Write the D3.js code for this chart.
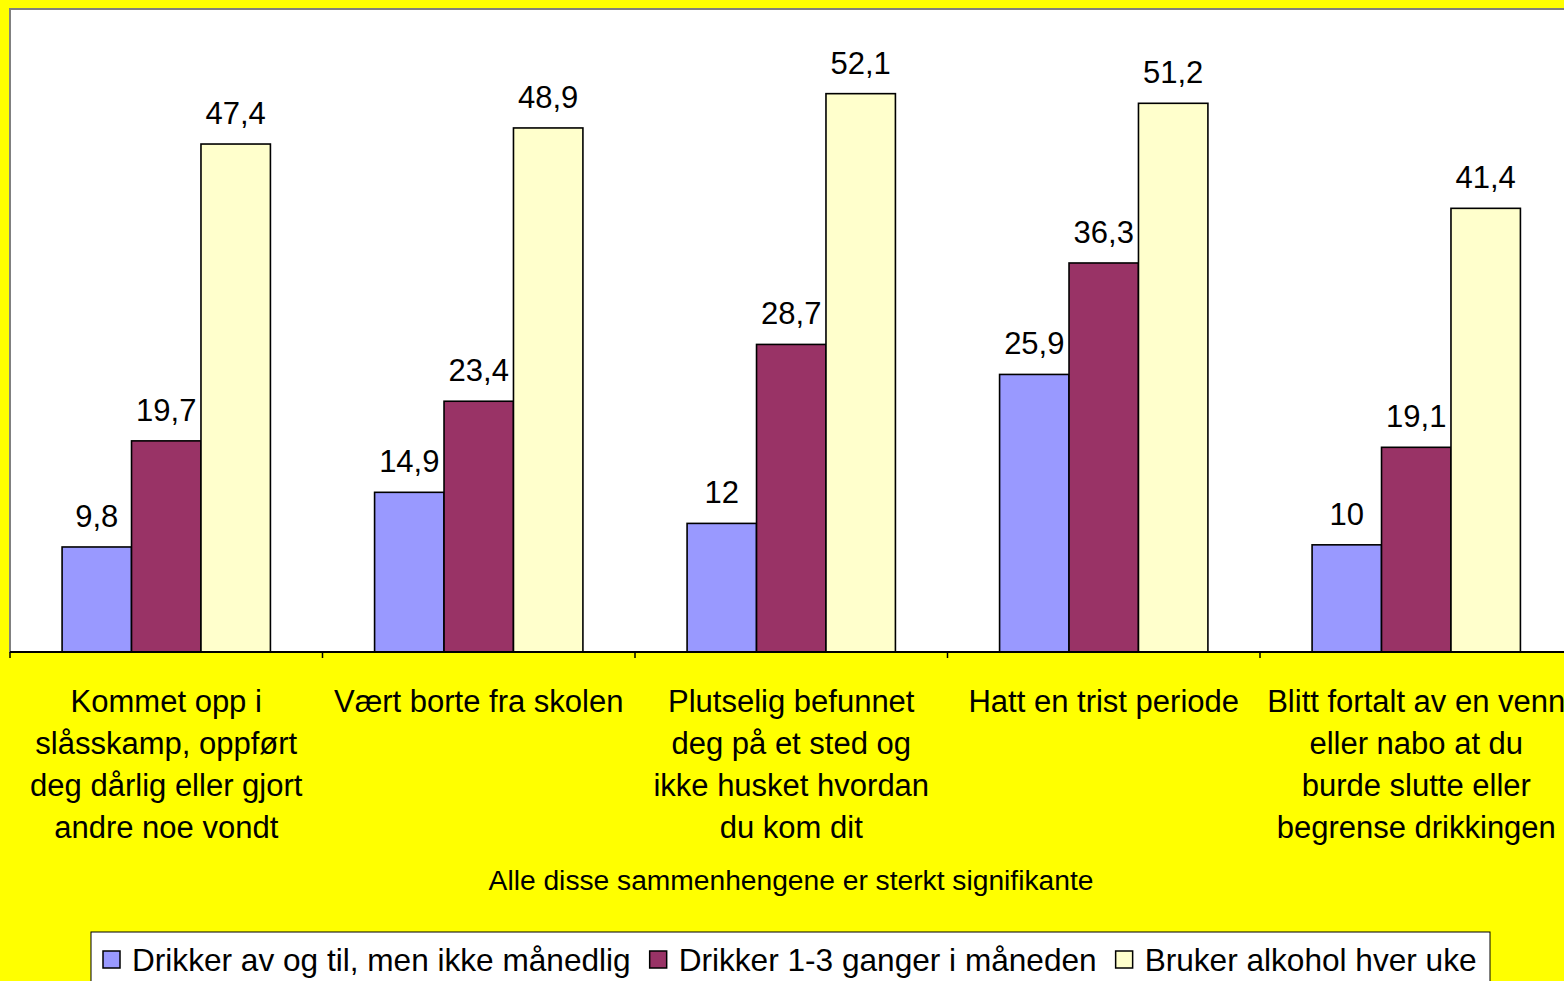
<!DOCTYPE html>
<html>
<head>
<meta charset="utf-8">
<script src="https://cdn.jsdelivr.net/npm/d3@7"></script>
<style>
  html, body { margin: 0; padding: 0; background: #FFFF00; overflow: hidden; }
  svg { display: block; }
  text { font-family: "Liberation Sans", Arial, sans-serif; fill: #000; }
</style>
</head>
<body>
<svg id="chart" width="1564" height="981"></svg>
<script>
const categories = [
  ["Kommet opp i", "slåsskamp, oppført", "deg dårlig eller gjort", "andre noe vondt"],
  ["Vært borte fra skolen"],
  ["Plutselig befunnet", "deg på et sted og", "ikke husket hvordan", "du kom dit"],
  ["Hatt en trist periode"],
  ["Blitt fortalt av en venn", "eller nabo at du", "burde slutte eller", "begrense drikkingen"]
];
const seriesNames = [
  "Drikker av og til, men ikke månedlig",
  "Drikker 1-3 ganger i måneden",
  "Bruker alkohol hver uke"
];
const series1 = [9.8, 14.9, 12, 25.9, 10];
const series2 = [19.7, 23.4, 28.7, 36.3, 19.1];
const series3 = [47.4, 48.9, 52.1, 51.2, 41.4];
const seriesColors = ["#9999FF", "#993366", "#FFFFCC"];
const footnote = "Alle disse sammenhengene er sterkt signifikante";
const yMax = 60;

const allSeries = [series1, series2, series3];
const svg = d3.select("#chart");

const plot = { left: 10, top: 9, right: 1572.5, bottom: 652 };

const x0 = d3.scaleBand()
  .domain(d3.range(categories.length))
  .range([plot.left, plot.right])
  .paddingInner(0).paddingOuter(0);
const x1 = d3.scaleBand()
  .domain(d3.range(allSeries.length))
  .range([0, x0.bandwidth()])
  .paddingOuter(0.75).paddingInner(0);
const y = d3.scaleLinear().domain([0, yMax]).range([plot.bottom, plot.top]);

// plot area
svg.append("rect")
  .attr("x", plot.left).attr("y", plot.top)
  .attr("width", plot.right - plot.left).attr("height", plot.bottom - plot.top)
  .attr("fill", "#fff").attr("stroke", "#808080").attr("stroke-width", 2);

// bars
const groups = svg.append("g").selectAll("g")
  .data(categories.map((c, i) => i))
  .join("g")
  .attr("transform", i => `translate(${x0(i)},0)`);

groups.selectAll("rect")
  .data(i => allSeries.map((s, k) => ({ k, v: s[i] })))
  .join("rect")
  .attr("x", d => x1(d.k))
  .attr("y", d => y(d.v))
  .attr("width", x1.bandwidth())
  .attr("height", d => y(0) - y(d.v))
  .attr("fill", d => seriesColors[d.k])
  .attr("stroke", "#000").attr("stroke-width", 1.6);

groups.selectAll("text.val")
  .data(i => allSeries.map((s, k) => ({ k, v: s[i] })))
  .join("text")
  .attr("class", "val")
  .attr("x", d => x1(d.k) + x1.bandwidth() / 2)
  .attr("y", d => y(d.v) - 20)
  .attr("text-anchor", "middle")
  .attr("font-size", 31)
  .text(d => String(d.v).replace(".", ","));

// x axis
const xAxis = d3.axisBottom(x0).tickSize(0).tickFormat("");
const axG = svg.append("g").attr("transform", `translate(0,${plot.bottom})`).call(xAxis);
axG.select(".domain").attr("stroke", "#000").attr("stroke-width", 2)
  .attr("d", `M${plot.left},0H${plot.right}`);
axG.selectAll("line.bound")
  .data(d3.range(categories.length + 1))
  .join("line")
  .attr("class", "bound")
  .attr("x1", i => i < categories.length ? x0(i) : plot.right)
  .attr("x2", i => i < categories.length ? x0(i) : plot.right)
  .attr("y1", 0).attr("y2", 6)
  .attr("stroke", "#000").attr("stroke-width", 1.5);

// category labels
const catG = svg.append("g");
categories.forEach((lines, i) => {
  const t = catG.append("text")
    .attr("x", x0(i) + x0.bandwidth() / 2)
    .attr("y", 712)
    .attr("text-anchor", "middle")
    .attr("font-size", 31);
  lines.forEach((ln, j) => {
    t.append("tspan")
      .attr("x", x0(i) + x0.bandwidth() / 2)
      .attr("dy", j === 0 ? 0 : 42)
      .text(ln);
  });
});

// footnote
svg.append("text")
  .attr("x", 791).attr("y", 890)
  .attr("text-anchor", "middle")
  .attr("font-size", 28.2)
  .text(footnote);

// legend
const legend = svg.append("g");
legend.append("rect")
  .attr("x", 91).attr("y", 932)
  .attr("width", 1399).attr("height", 80)
  .attr("fill", "#fff").attr("stroke", "#000").attr("stroke-width", 1);
let lx = 103;
seriesNames.forEach((name, k) => {
  legend.append("rect")
    .attr("x", lx).attr("y", 951).attr("width", 17).attr("height", 17)
    .attr("fill", seriesColors[k]).attr("stroke", "#000").attr("stroke-width", 1.5);
  const t = legend.append("text")
    .attr("x", lx + 29).attr("y", 971)
    .attr("font-size", 31.6)
    .text(name);
  lx = lx + 29 + t.node().getComputedTextLength() + 19;
});
</script>
</body>
</html>
